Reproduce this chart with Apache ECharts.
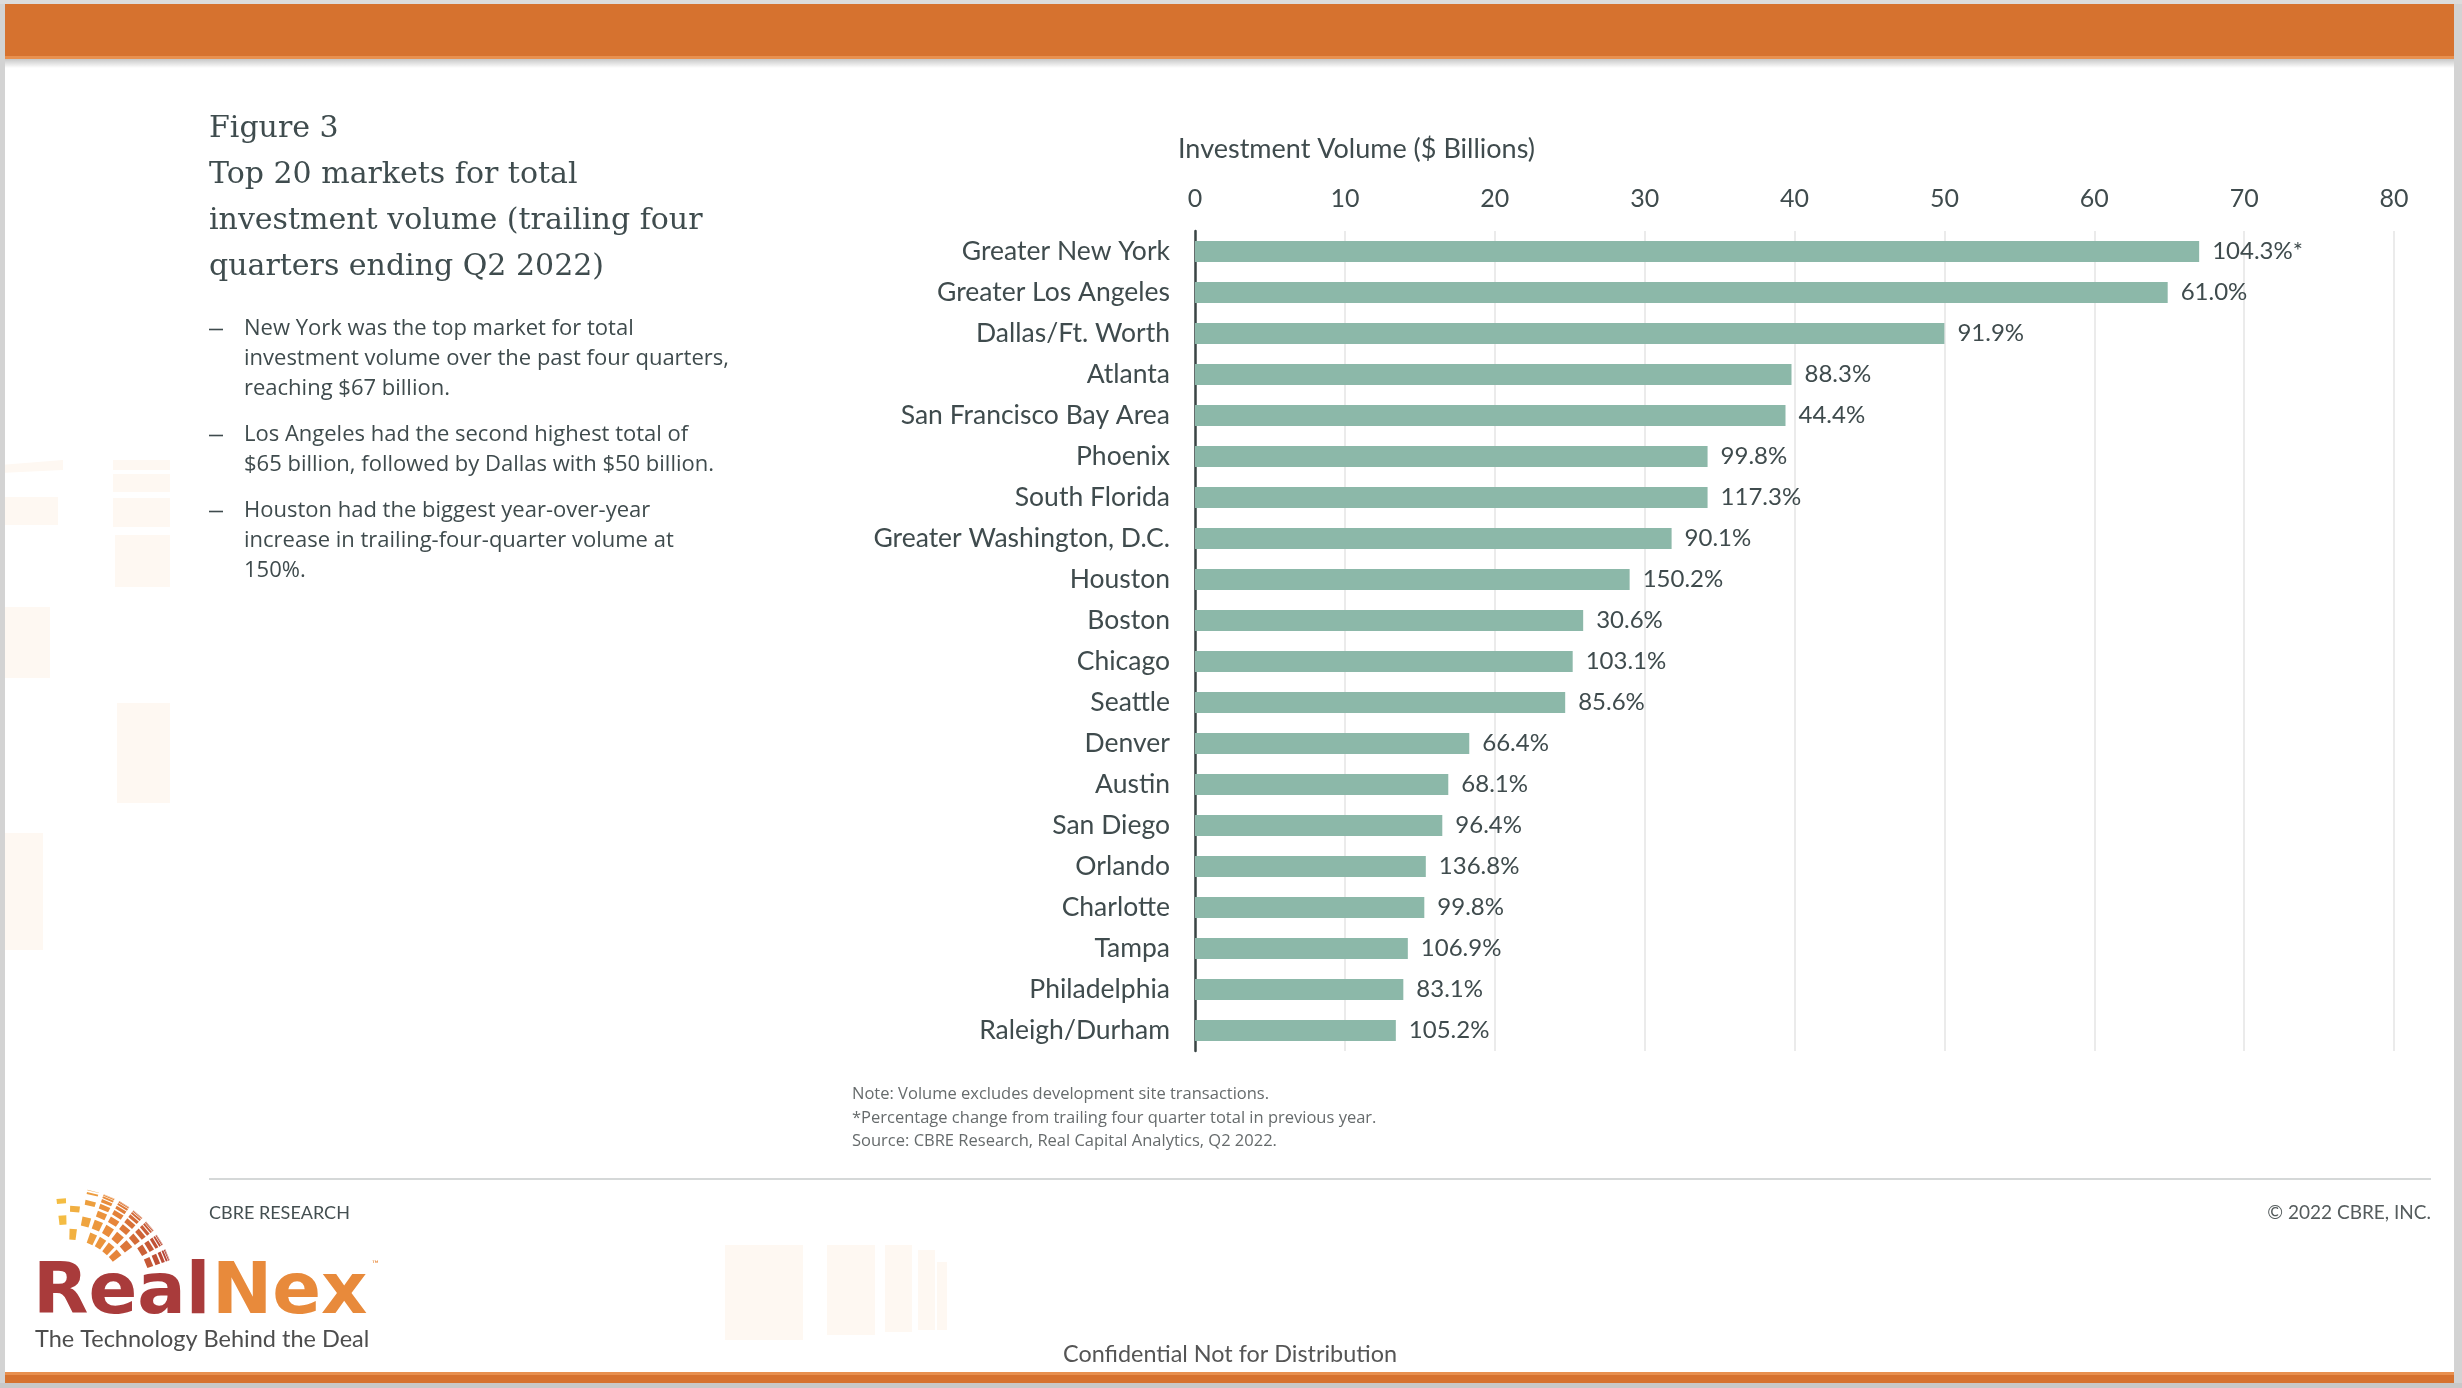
<!DOCTYPE html>
<html>
<head>
<meta charset="utf-8">
<script src="https://cdn.jsdelivr.net/npm/echarts@6/dist/echarts.min.js"></script>
<style>
html,body{margin:0;padding:0;background:#fff;}
#chart{width:2462px;height:1388px;}
</style>
</head>
<body>
<div id="chart"></div>
<script>
// ---- data ----
const categories = ['Greater New York','Greater Los Angeles','Dallas/Ft. Worth','Atlanta','San Francisco Bay Area','Phoenix','South Florida','Greater Washington, D.C.','Houston','Boston','Chicago','Seattle','Denver','Austin','San Diego','Orlando','Charlotte','Tampa','Philadelphia','Raleigh/Durham'];
const volumeBillions = [67.0, 64.9, 50.0, 39.8, 39.4, 34.2, 34.2, 31.8, 29.0, 25.9, 25.2, 24.7, 18.3, 16.9, 16.5, 15.4, 15.3, 14.2, 13.9, 13.4];
const yoyChange = ['104.3%*','61.0%','91.9%','88.3%','44.4%','99.8%','117.3%','90.1%','150.2%','30.6%','103.1%','85.6%','66.4%','68.1%','96.4%','136.8%','99.8%','106.9%','83.1%','105.2%'];
const xTicks = [0, 10, 20, 30, 40, 50, 60, 70, 80];
const axisTitle = 'Investment Volume ($ Billions)';
const titleLines = ['Figure 3','Top 20 markets for total','investment volume (trailing four','quarters ending Q2 2022)'];
const bullets = [
  ['New York was the top market for total','investment volume over the past four quarters,','reaching $67 billion.'],
  ['Los Angeles had the second highest total of','$65 billion, followed by Dallas with $50 billion.'],
  ['Houston had the biggest year-over-year','increase in trailing-four-quarter volume at','150%.']
];
const notes = ['Note: Volume excludes development site transactions.','*Percentage change from trailing four quarter total in previous year.','Source: CBRE Research, Real Capital Analytics, Q2 2022.'];

// ---- styles ----
const TXT = '#3f4b4d';
const BAR = '#8cb8a9';
const ORANGE = '#d6722f';

const chart = echarts.init(document.getElementById('chart'), null, {renderer:'canvas'});

function txt(x, y, s, font, fill, align, valign, z) {
  return {type:'text', x:x, y:y, z: z||10, silent:true,
    style:{text:s, font:font, fill:fill, textAlign:align||'left', textVerticalAlign:valign||'middle'}};
}
function rect(x, y, w, h, fill, z) {
  return {type:'rect', shape:{x:x,y:y,width:w,height:h}, style:{fill:fill}, silent:true, z: z||1};
}

const g = [];
// frame edges
g.push(rect(0,0,5,1388,'#d3d3d3',5));
g.push(rect(2454,0,8,1388,'#d3d3d3',5));
g.push(rect(0,0,2462,4,'#dcdcdc',5));
g.push(rect(0,1383,2462,5,'#c8c8c8',5));
// header
g.push(rect(5,4,2449,53,ORANGE,6));
g.push(rect(5,56,2449,3,'#e8904f',6));
g.push({type:'rect', shape:{x:5,y:59,width:2449,height:9}, silent:true, z:6,
  style:{fill:{type:'linear',x:0,y:0,x2:0,y2:1,colorStops:[{offset:0,color:'rgba(0,0,0,0.22)'},{offset:1,color:'rgba(0,0,0,0)'}]}}});
// footer band
g.push(rect(5,1373,2449,10,ORANGE,6));
g.push(rect(5,1372,2449,3,'#e8904f',6));

// faint watermark shapes
const wm = '#fef8f2';
[[0,497,58,28],[113,474,57,18],[113,498,57,29],[115,535,55,52],[0,607,50,71],[117,703,53,100],[0,833,43,117],
 [725,1245,78,95],[827,1245,48,90],[885,1245,27,87],[918,1250,17,80],[937,1262,10,68]].forEach(r=>g.push(rect(r[0],r[1],r[2],r[3],wm,2)));
g.push({type:'polygon', shape:{points:[[0,465],[63,460],[63,470],[0,473]]}, style:{fill:wm}, silent:true, z:2});
g.push(rect(113,460,57,10,wm,2));

// title
const tY = [129, 175, 221, 267];
titleLines.forEach((s,i)=>g.push(txt(209, tY[i], s, '30px "DejaVu Serif"', '#3f4c4e')));
// bullets
const bStart = [328.5, 434.5, 510.5];
bullets.forEach((lines,bi)=>{
  g.push({type:'line', shape:{x1:209,y1:bStart[bi]+1,x2:223,y2:bStart[bi]+1}, style:{stroke:TXT, lineWidth:1.6}, silent:true, z:10});
  lines.forEach((s,li)=>g.push(txt(244, bStart[bi] + li*30.3, s, '22px "Open Sans"', TXT)));
});
// axis title
g.push(txt(1178, 149, axisTitle, '27px Lato', TXT));
// notes
notes.forEach((s,i)=>g.push(txt(852, [1094.5,1118.5,1141.5][i], s, '16.5px "Open Sans"', '#666b6c')));
// footer line & texts
g.push({type:'line', shape:{x1:209,y1:1179,x2:2431,y2:1179}, style:{stroke:'#d5d8d8', lineWidth:2}, silent:true, z:3});
g.push(txt(209, 1213, 'CBRE RESEARCH', '18px Lato', '#444f51'));
g.push(txt(2431, 1213, '\u00a9 2022 CBRE, INC.', '19px Lato', '#555c5d', 'right'));
g.push(txt(1230, 1354, 'Confidential Not for Distribution', '23.4px Lato', '#555555', 'center'));

// RealNex logo
g.push(txt(33, 1294, 'Real', 'bold 72px "DejaVu Sans"', '#a93b3b'));
g.push(txt(212, 1294, 'Nex', 'bold 72px "DejaVu Sans"', '#e88a3b'));
g.push(txt(372, 1264, '\u2122', '9px Lato', '#e88a3b'));
g.push(txt(35, 1339, 'The Technology Behind the Deal', '23.5px Lato', '#4d4d4d'));
// globe squares
(function(){
  const cx = 68, cy = 1296, R = 108;
  function pt(th, ph){ const r = R*Math.sin(ph*Math.PI/180); return [cx + r*Math.cos(th*Math.PI/180), cy - r*Math.sin(th*Math.PI/180)]; }
  function lerp(a,b,t){return Math.round(a+(b-a)*t);}
  function col(x){
    const t = Math.max(0, Math.min(1, (x-55)/115));
    const c1=[246,196,68], c2=[232,135,58], c3=[178,62,52];
    let a,b,u; if(t<0.5){a=c1;b=c2;u=t/0.5;} else {a=c2;b=c3;u=(t-0.5)/0.5;}
    return 'rgb('+lerp(a[0],b[0],u)+','+lerp(a[1],b[1],u)+','+lerp(a[2],b[2],u)+')';
  }
  const ths = [18,27,36,45,54,63,72,81,90,98];
  const phs = [30,40,50,58,66,73,79,84,88];
  for (let i=0;i<ths.length-1;i++){
    for (let j=0;j<phs.length-1;j++){
      if (ths[i] >= 72 && (i+j)%2===0) continue;
      if (ths[i] >= 81 && phs[j] > 60) continue;
      if (ths[i] < 30 && phs[j] < 50) continue;
      const dt = (ths[i+1]-ths[i])*0.15, dp = (phs[j+1]-phs[j])*0.15;
      const t1=ths[i]+dt, t2=ths[i+1]-dt, p1=phs[j]+dp, p2=phs[j+1]-dp;
      const pts=[pt(t1,p1),pt(t2,p1),pt(t2,p2),pt(t1,p2)];
      const mx=(pts[0][0]+pts[2][0])/2;
      g.push({type:'polygon', shape:{points:pts}, style:{fill:col(mx)}, silent:true, z:8});
    }
  }
})();

const option = {
  backgroundColor:'#ffffff',
  animation:false,
  grid:{left:1195, top:231, width:1199, height:820, containLabel:false},
  xAxis:{
    type:'value', position:'top', min:xTicks[0], max:xTicks[xTicks.length-1], interval:xTicks[1]-xTicks[0],
    axisLine:{show:false}, axisTick:{show:false},
    axisLabel:{margin:20, fontSize:25, fontFamily:'Lato', color:TXT},
    splitLine:{show:true, lineStyle:{color:'#ebebeb', width:2}}
  },
  yAxis:{
    type:'category', inverse:true, data:categories,
    axisLine:{show:true, lineStyle:{color:'#3a4545', width:2.5}},
    axisTick:{show:false},
    axisLabel:{margin:25, fontSize:26.5, fontFamily:'Lato', color:TXT},
    splitLine:{show:false}
  },
  series:[{
    type:'bar', data:volumeBillions, barWidth:21,
    itemStyle:{color:BAR},
    label:{show:true, position:'right', distance:13, fontSize:24, fontFamily:'Lato', color:TXT,
      formatter:p=>yoyChange[p.dataIndex]}
  }],
  graphic:{elements:g}
};
chart.setOption(option);
</script>
</body>
</html>
